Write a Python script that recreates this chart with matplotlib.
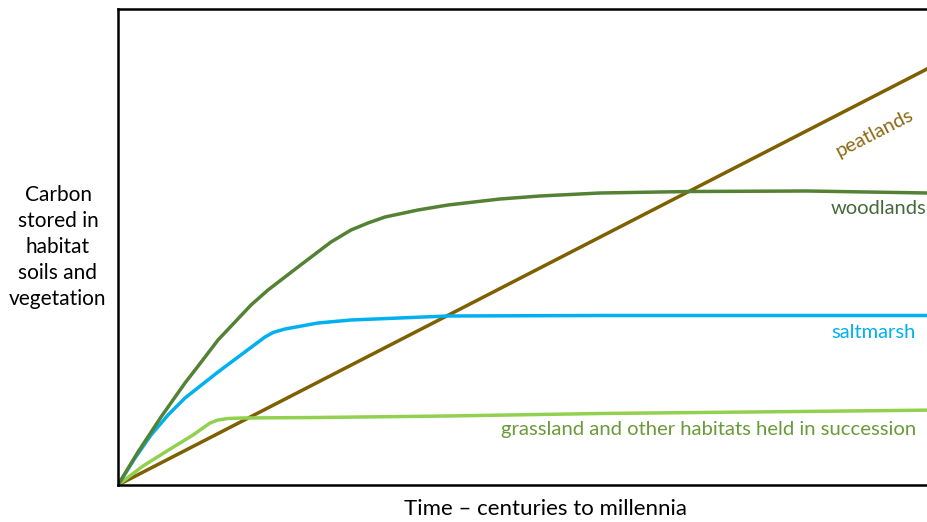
import matplotlib.pyplot as plt

plt.rcParams['font.family'] = ['Lato', 'DejaVu Sans']

# values (arbitrary units, 0 at origin)
wood_x = [0, 20, 43, 67, 84, 100, 117, 133, 150, 180, 213, 233, 250, 267, 300, 330,
          382, 422, 482, 572, 689, 809, 822]
wood_y = [0, 33, 68, 102, 124, 145, 163, 180, 195, 218, 243, 255, 262, 268, 275, 280,
          286, 289, 292, 293.5, 294, 292, 291.7]

salt_x = [0, 17, 33, 50, 67, 100, 147, 155, 167, 200, 233, 330, 482, 682, 822]
salt_y = [0, 27, 50, 70, 87, 113, 148, 152.5, 156, 162, 165, 169, 169.5, 169.5, 169.5]

grass_x = [0, 25, 49, 75, 92, 100, 110, 125, 200, 330, 482, 682, 822]
grass_y = [0, 19, 34, 50, 62, 65, 66.5, 67, 67.5, 69, 71.5, 73.5, 75]

peat_x = [0, 822]
peat_y = [0, 422.7]

fig = plt.figure(figsize=(9.27, 5.22), dpi=100)
ax = fig.add_axes([118 / 927, 37 / 522, 822 / 927, 476 / 522])

lw = 2.5
ax.plot(peat_x, peat_y, color='#7F6000', lw=lw, solid_capstyle='round')
ax.plot(grass_x, grass_y, color='#92D050', lw=lw, solid_capstyle='round', solid_joinstyle='round')
ax.plot(salt_x, salt_y, color='#00B0F0', lw=lw, solid_capstyle='round', solid_joinstyle='round')
ax.plot(wood_x, wood_y, color='#548235', lw=lw, solid_capstyle='round', solid_joinstyle='round')

ax.set_xlim(0, 822)
ax.set_ylim(0, 476)
ax.set_xticks([])
ax.set_yticks([])
for s in ax.spines.values():
    s.set_linewidth(1.8)
    s.set_color('black')

# curve labels
ax.text(757, 352, 'peatlands', color='#8B6914', fontsize=14.5, rotation=27,
        ha='center', va='center', rotation_mode='anchor')
ax.text(713, 277, 'woodlands', color='#44693A', fontsize=14.5, ha='left', va='center')
ax.text(713, 152, 'saltmarsh', color='#00B0F0', fontsize=14.5, ha='left', va='center')
ax.text(383, 56, 'grassland and other habitats held in succession', color='#6A9A3A',
        fontsize=14.6, ha='left', va='center')

fig.text(58 / 927, 1 - 247 / 522, 'Carbon\nstored in\nhabitat\nsoils and\nvegetation',
         ha='center', va='center', fontsize=15, linespacing=1.39, color='black')
fig.text(545 / 927, 1 - 509 / 522, 'Time \u2013 centuries to millennia',
         ha='center', va='center', fontsize=16, color='black')

fig.savefig('out.png', dpi=100)
